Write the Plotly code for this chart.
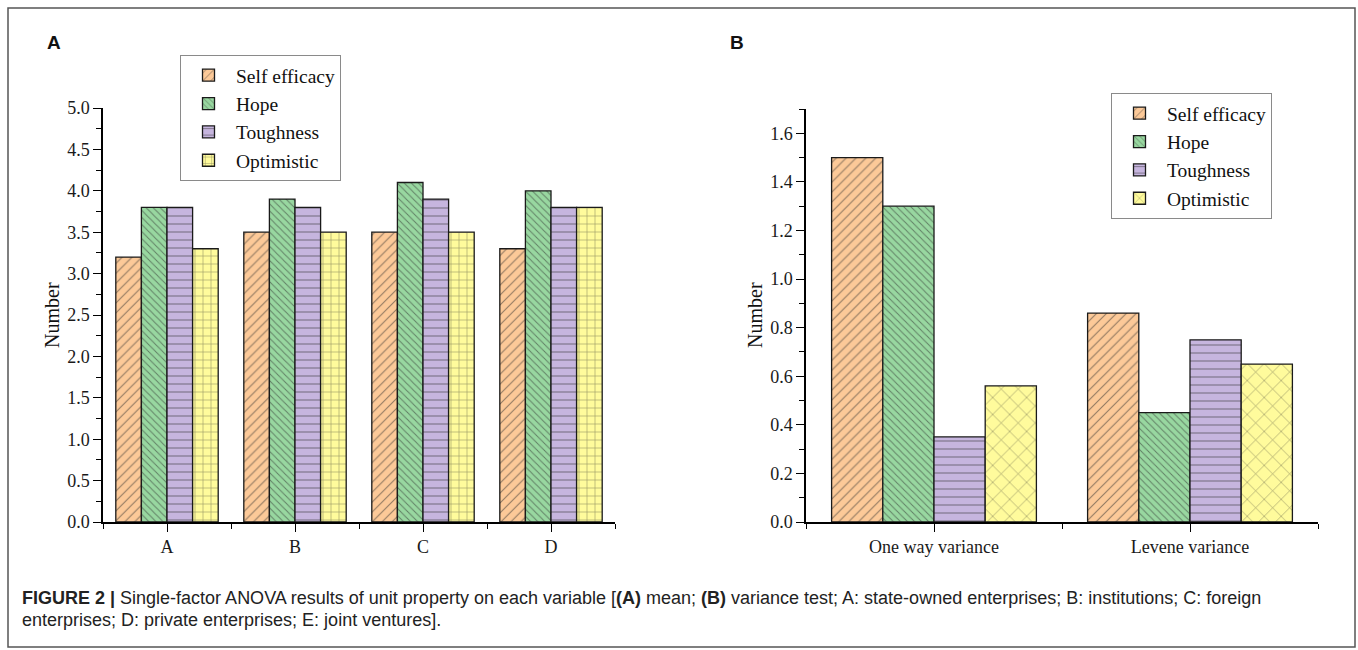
import plotly.graph_objects as go

W, H = 1358, 650

# ---------------- data ----------------
categories_a = ["A", "B", "C", "D"]
self_efficacy_a = [3.2, 3.5, 3.5, 3.3]
hope_a = [3.8, 3.9, 4.1, 4.0]
toughness_a = [3.8, 3.8, 3.9, 3.8]
optimistic_a = [3.3, 3.5, 3.5, 3.8]

categories_b = ["One way variance", "Levene variance"]
self_efficacy_b = [1.5, 0.86]
hope_b = [1.3, 0.45]
toughness_b = [0.35, 0.75]
optimistic_b = [0.56, 0.65]

series_names = ["Self efficacy", "Hope", "Toughness", "Optimistic"]

# ---------------- styles ----------------
fills = ["#FCC998", "#98D7A0", "#C6B5DE", "#FFFB9C"]
patterns_a = [("/", 7, 0.16), ("\\", 5, 0.2), ("-", 8, 0.14), ("+", 8, 0.14)]
patterns_b = [("/", 7, 0.16), ("\\", 5, 0.2), ("-", 8, 0.14), ("x", 12, 0.1)]
SERIF = "Liberation Serif"
SANS = "Liberation Sans"


def px_x(p):
    return p / W


def px_y(p):
    return 1 - p / H


fig = go.Figure()

vals_a = [self_efficacy_a, hope_a, toughness_a, optimistic_a]
vals_b = [self_efficacy_b, hope_b, toughness_b, optimistic_b]
xa = list(range(len(categories_a)))
xb = list(range(len(categories_b)))

for i, name in enumerate(series_names):
    shp, sz, sol = patterns_a[i]
    fig.add_trace(go.Bar(
        x=xa, y=vals_a[i], name=name, xaxis="x", yaxis="y", legend="legend",
        marker=dict(color=fills[i], line=dict(color="#1a1a1a", width=1.3),
                    pattern=dict(shape=shp, size=sz, solidity=sol,
                                 fgcolor="#2a2a2a", fillmode="overlay")),
    ))
for i, name in enumerate(series_names):
    shp, sz, sol = patterns_b[i]
    fig.add_trace(go.Bar(
        x=xb, y=vals_b[i], name=name, xaxis="x2", yaxis="y2", legend="legend2",
        marker=dict(color=fills[i], line=dict(color="#1a1a1a", width=1.3),
                    pattern=dict(shape=shp, size=sz, solidity=sol,
                                 fgcolor="#2a2a2a", fillmode="overlay")),
    ))

axis_common = dict(showline=True, linecolor="black", linewidth=1.5,
                   ticks="outside", ticklen=8, tickwidth=1.3, tickcolor="black",
                   showgrid=False, zeroline=False, automargin=False,
                   tickfont=dict(family=SERIF, size=18, color="#1a1a1a"))

legend_common = dict(xanchor="left", yanchor="top", bgcolor="white",
                     bordercolor="#8a8a8a", borderwidth=1,
                     font=dict(family=SERIF, size=19.5, color="#111"),
                     tracegroupgap=0, itemwidth=45)

fig.update_layout(
    width=W, height=H,
    margin=dict(l=0, r=0, t=0, b=0, pad=0, autoexpand=False),
    paper_bgcolor="white", plot_bgcolor="white",
    barmode="group", bargap=0.2, bargroupgap=0,
    xaxis=dict(domain=[px_x(103), px_x(615)], range=[-0.5, 3.5],
               tickmode="array", tickvals=xa, ticktext=categories_a,
               minor=dict(tick0=0.5, dtick=1, ticks="outside", ticklen=5,
                          tickcolor="black", tickwidth=1.3),
               anchor="y", **axis_common),
    yaxis=dict(domain=[px_y(522), px_y(108)], range=[0, 5.0], dtick=0.5,
               tickformat=".1f",
               minor=dict(dtick=0.25, ticks="outside", ticklen=5,
                          tickcolor="black", tickwidth=1.3),
               anchor="x", **axis_common),
    xaxis2=dict(domain=[px_x(806), px_x(1318)], range=[-0.5, 1.5],
                tickmode="array", tickvals=xb, ticktext=categories_b,
                minor=dict(tick0=0.5, dtick=1, ticks="outside", ticklen=5,
                           tickcolor="black", tickwidth=1.3),
                anchor="y2", **axis_common),
    yaxis2=dict(domain=[px_y(522), px_y(109)], range=[0, 1.7], dtick=0.2,
                tickformat=".1f",
                minor=dict(dtick=0.1, ticks="outside", ticklen=5,
                           tickcolor="black", tickwidth=1.3),
                anchor="x2", **axis_common),
    legend=dict(x=px_x(180), y=px_y(55), **legend_common),
    legend2=dict(x=px_x(1111), y=px_y(93), **legend_common),
    showlegend=True,
)

annotations = [
    dict(text="<b>A</b>", x=px_x(54), y=px_y(42), font=dict(family=SANS, size=19, color="#111")),
    dict(text="<b>B</b>", x=px_x(737), y=px_y(43), font=dict(family=SANS, size=19, color="#111")),
    dict(text="Number", x=px_x(52), y=px_y(315), textangle=-90,
         font=dict(family=SERIF, size=20, color="#111")),
    dict(text="Number", x=px_x(755), y=px_y(315), textangle=-90,
         font=dict(family=SERIF, size=20, color="#111")),
    dict(text="<b>FIGURE 2 |</b> Single-factor ANOVA results of unit property on each variable "
              "[<b>(A)</b> mean; <b>(B)</b> variance test; A: state-owned enterprises; "
              "B: institutions; C: foreign",
         x=px_x(20), y=px_y(598), xanchor="left",
         font=dict(family=SANS, size=18, color="#222")),
    dict(text="enterprises; D: private enterprises; E: joint ventures].",
         x=px_x(20), y=px_y(620), xanchor="left",
         font=dict(family=SANS, size=18, color="#222")),
]
for a in annotations:
    a.setdefault("xanchor", "center")
    a.update(xref="paper", yref="paper", yanchor="middle", showarrow=False)
fig.update_layout(annotations=annotations)

fig.add_shape(type="rect", xref="paper", yref="paper",
              x0=px_x(8), x1=px_x(1355), y0=px_y(647), y1=px_y(8),
              line=dict(color="#555", width=1.5), fillcolor="rgba(0,0,0,0)", layer="below")

fig.write_html(
    "out.html",
    config={"displayModeBar": False},
    post_script=(
        "document.documentElement.style.margin='0';"
        "document.documentElement.style.overflow='hidden';"
        "document.body.style.margin='0';document.body.style.overflow='hidden';"
        "var d=document.getElementById('{plot_id}');"
        "d.style.position='fixed';d.style.left='0px';d.style.top='0px';"
    ),
)
